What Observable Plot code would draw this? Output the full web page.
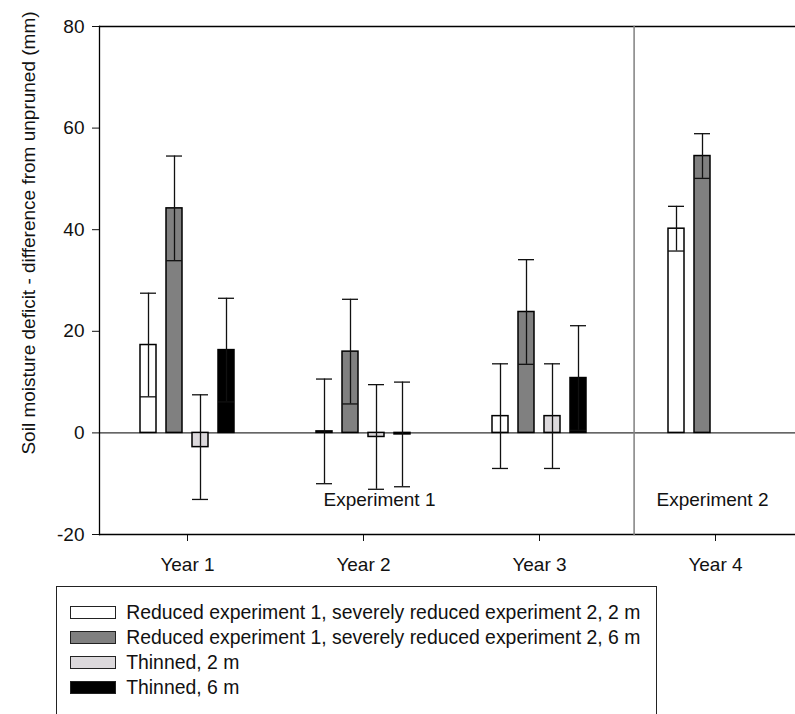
<!DOCTYPE html>
<html>
<head>
<meta charset="utf-8">
<script src="https://cdn.jsdelivr.net/npm/d3@7"></script>
<script src="https://cdn.jsdelivr.net/npm/@observablehq/plot@0.6"></script>
<style>
  html, body { margin: 0; padding: 0; overflow: hidden; background: #fff; }
  #wrap { position: relative; width: 795px; height: 714px; overflow: hidden; }
  #legend {
    position: absolute; left: 56px; top: 586px; width: 601px; height: 160px;
    box-sizing: border-box; border: 1.5px solid #222; border-bottom: none;
    padding-top: 13px; font-family: "Liberation Sans", Arial, sans-serif; font-size: 19.4px; color: #111;
  }
  .row { display: flex; align-items: center; height: 25px; line-height: 25px; white-space: nowrap; }
  .sw { width: 46px; height: 13px; box-sizing: border-box; border: 1.5px solid #222; margin-left: 12.5px; margin-right: 10.7px; flex: none; }
</style>
</head>
<body>
<div id="wrap"><div id="chart"></div><div id="legend"></div></div>
<script>
const years = ["Year 1", "Year 2", "Year 3", "Year 4"];
const series = [
  "Reduced experiment 1, severely reduced experiment 2, 2 m",
  "Reduced experiment 1, severely reduced experiment 2, 6 m",
  "Thinned, 2 m",
  "Thinned, 6 m"
];
const colors = ["#ffffff", "#808080", "#dcd9dc", "#000000"];
// mean difference (mm), per series, per year
const meanS1 = [17.3, 0.3, 3.3, 40.2];
const meanS2 = [44.2, 16.0, 23.8, 54.5];
const meanS3 = [-2.8, -0.8, 3.3, null];
const meanS4 = [16.3, -0.3, 10.8, null];
// standard errors
const errS1 = [10.2, 10.3, 10.3, 4.4];
const errS2 = [10.3, 10.3, 10.3, 4.4];
const errS3 = [10.3, 10.3, 10.3, null];
const errS4 = [10.2, 10.3, 10.3, null];
const yTicks = [-20, 0, 20, 40, 60, 80];
const yTitle = "Soil moisture deficit - difference from unpruned (mm)";
const expLabel1 = [{year: "Year 2", label: "Experiment 1"}];
const expLabel2 = [{year: "Year 4", label: "Experiment 2"}];

const means = [meanS1, meanS2, meanS3, meanS4];
const errs = [errS1, errS2, errS3, errS4];
const rows = [];
years.forEach((yr, j) => series.forEach((s, i) => {
  const m = means[i][j];
  if (m == null) return;
  rows.push({year: yr, series: s, mean: m, lo: m - errs[i][j], hi: m + errs[i][j]});
}));

const font = "Liberation Sans, Arial, sans-serif";
const chart = Plot.plot({
  width: 804,
  height: 580,
  marginLeft: 97,
  marginRight: 0,
  marginTop: 26,
  marginBottom: 46,
  facet: {marginTop: 0, marginRight: 0, marginBottom: 0, marginLeft: 0},
  style: {fontFamily: font, fontSize: "19px", color: "#111", background: "white", maxWidth: "none", overflow: "visible"},
  fx: {domain: years, padding: 0, label: null, axis: "bottom", tickSize: 7, tickPadding: 16},
  x: {type: "band", domain: series, paddingInner: 0.38, paddingOuter: 1.51, align: 0.5, axis: null},
  y: {domain: [-20, 80], ticks: yTicks, tickSize: 7, tickPadding: 8, label: null, tickFormat: d => String(d)},
  color: {domain: series, range: colors},
  marks: [
    Plot.ruleY([0], {stroke: "#333", strokeWidth: 1.3}),
    Plot.barY(rows, {fx: "year", x: "series", y: "mean", fill: "series", stroke: "#000", strokeWidth: 1.5}),
    Plot.ruleX(rows, {fx: "year", x: "series", y1: "lo", y2: "hi", stroke: "#111", strokeWidth: 1.3}),
    Plot.tickY(rows, {fx: "year", x: "series", y: "hi", stroke: "#111", strokeWidth: 1.3}),
    Plot.tickY(rows, {fx: "year", x: "series", y: "lo", stroke: "#111", strokeWidth: 1.3}),
    Plot.ruleY([80], {stroke: "#000", strokeWidth: 1.3}),
    Plot.ruleY([-20], {stroke: "#000", strokeWidth: 1.3}),
    Plot.frame({anchor: "left", facetAnchor: "left", stroke: "#000", strokeWidth: 1.3}),
    Plot.frame({anchor: "left", facetAnchor: "right", stroke: "#808080", strokeWidth: 1.5, dx: 6.6}),
    Plot.text(expLabel1, {fx: "year", text: "label", frameAnchor: "bottom", lineAnchor: "middle", dx: 16, dy: -34.5, fontSize: 19, fill: "#111"}),
    Plot.text(expLabel2, {fx: "year", text: "label", frameAnchor: "bottom", lineAnchor: "middle", dx: -3, dy: -34.5, fontSize: 19, fill: "#111"}),
    Plot.text([{year: "Year 1", label: yTitle}], {fx: "year", text: "label", frameAnchor: "left", textAnchor: "middle", rotate: -90, lineAnchor: "middle", dx: -71, dy: -47.5, fontSize: 19, fill: "#111"})
  ]
});
document.getElementById("chart").appendChild(chart);

const legend = document.getElementById("legend");
series.forEach((s, i) => {
  const row = document.createElement("div");
  row.className = "row";
  const sw = document.createElement("span");
  sw.className = "sw";
  sw.style.background = colors[i];
  const t = document.createElement("span");
  t.textContent = s;
  row.appendChild(sw);
  row.appendChild(t);
  legend.appendChild(row);
});
</script>
</body>
</html>
